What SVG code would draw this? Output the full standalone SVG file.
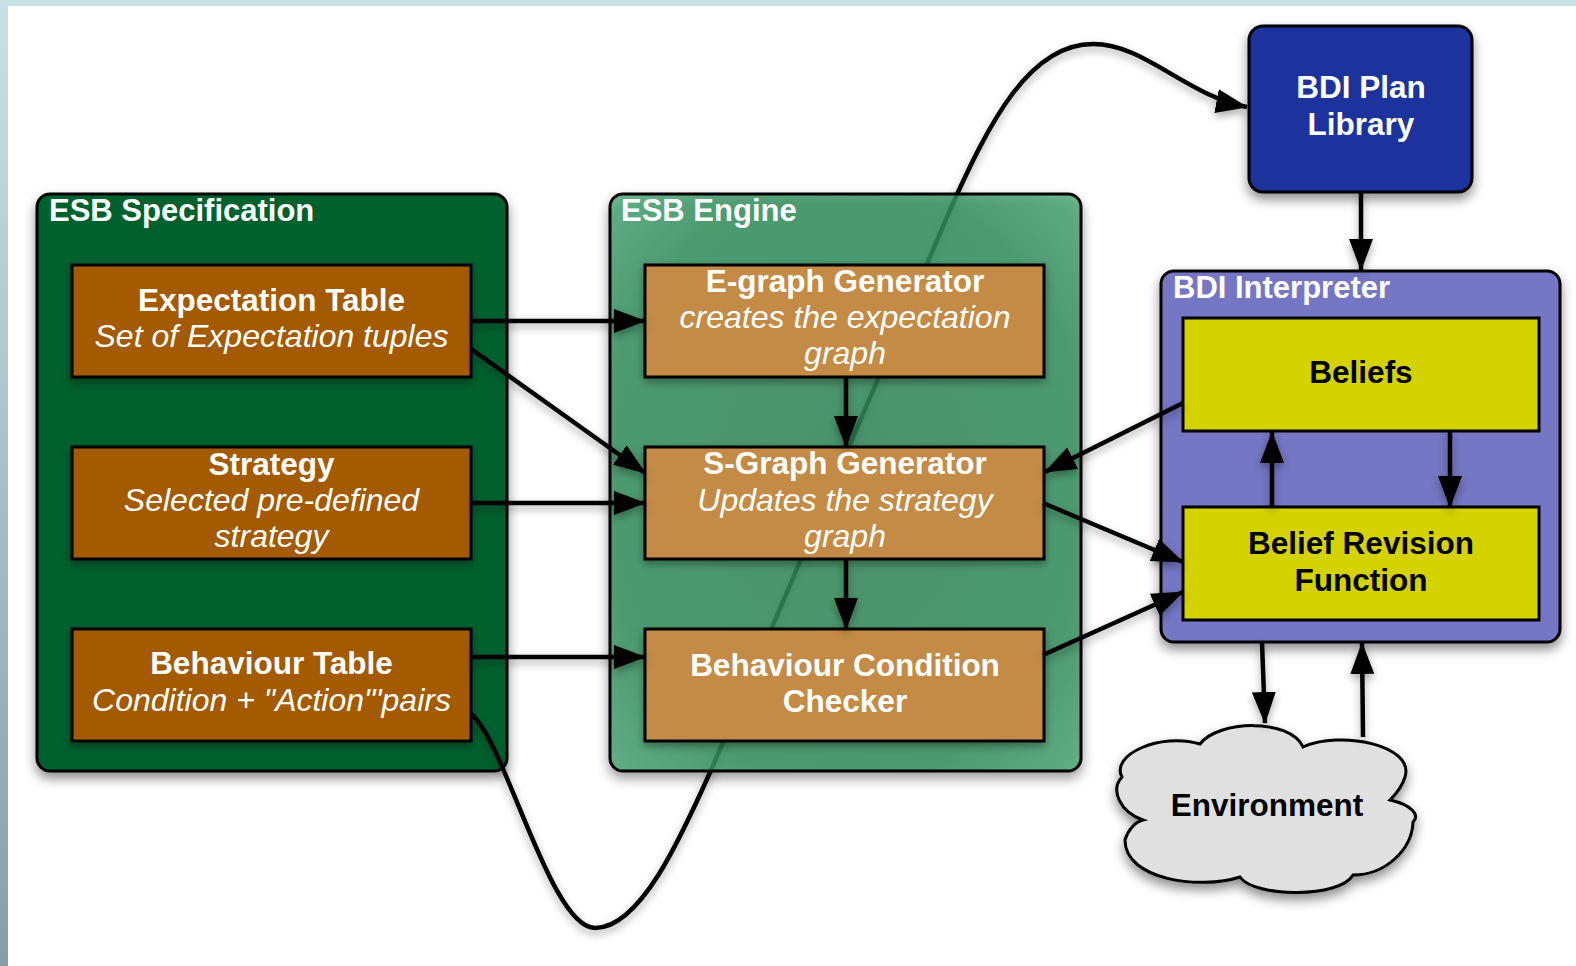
<svg xmlns="http://www.w3.org/2000/svg" width="1576" height="966" viewBox="0 0 1576 966">
<defs>
<style>
.t{font-family:"Liberation Sans",Arial,Helvetica,sans-serif;text-anchor:middle}
.b{font-weight:bold;font-size:31.5px}
.i{font-style:italic;font-size:32px}
.w{fill:#fff}
.k{fill:#000}
.ttl{font-family:"Liberation Sans",Arial,Helvetica,sans-serif;font-weight:bold;font-size:31px;fill:#fff}
.node{stroke:#000;stroke-width:3}
.brown{fill:#A35A00}
.tan{fill:#C38B45}
.yel{fill:#D4D200}
.con{fill:none;stroke:#000;stroke-width:4.5}
</style>
<linearGradient id="leftbg" x1="0" y1="0" x2="0" y2="1">
<stop offset="0" stop-color="#C8E1E4"/>
<stop offset="1" stop-color="#87A0A6"/>
</linearGradient>
<radialGradient id="engFill" cx="0.5" cy="0.5" r="0.75">
<stop offset="0" stop-color="#30885A"/>
<stop offset="0.7" stop-color="#36905F"/>
<stop offset="1" stop-color="#52AE7E"/>
</radialGradient>
<filter id="sh" filterUnits="userSpaceOnUse" x="0" y="0" width="1576" height="966">
<feDropShadow dx="0" dy="6" stdDeviation="6" flood-color="#000" flood-opacity="0.45"/>
</filter>
<filter id="shs" filterUnits="userSpaceOnUse" x="0" y="0" width="1576" height="966">
<feDropShadow dx="0" dy="4" stdDeviation="4" flood-color="#000" flood-opacity="0.35"/>
</filter>
<marker id="arr" markerUnits="userSpaceOnUse" markerWidth="32" markerHeight="24" viewBox="0 0 32 24" refX="31" refY="12" orient="auto">
<path d="M0,0 L32,12 L0,24 z" fill="#000"/>
</marker>
</defs>

<g id="background">
<rect x="0" y="0" width="1576" height="966" fill="#fff"/>
<rect x="0" y="0" width="1576" height="6" fill="#C8E1E4"/>
<rect x="0" y="0" width="8" height="966" fill="url(#leftbg)"/>
</g>

<g id="esb-specification">
<rect x="37" y="194" width="470" height="577" rx="13" fill="#00602E" stroke="#000" stroke-width="3" filter="url(#sh)"/>
<text class="ttl" x="49" y="221">ESB Specification</text>
</g>

<g id="connectors-back" filter="url(#shs)">
<path class="con" marker-end="url(#arr)" d="M471,714 C505,740 550,928 595,928 C640,928 680,840 712,768 L950,210 C990,120 1030,44 1093,44 C1145,44 1185,95 1247,107"/>
</g>

<g id="esb-engine">
<rect x="610" y="194" width="471" height="577" rx="13" fill="url(#engFill)" fill-opacity="0.8" stroke="#000" stroke-width="3" filter="url(#sh)"/>
<text class="ttl" x="621" y="221">ESB Engine</text>
</g>

<g id="bdi-interpreter">
<rect x="1161" y="271" width="399" height="371" rx="13" fill="#7576C4" stroke="#000" stroke-width="3" filter="url(#sh)"/>
<text class="ttl" x="1173" y="298">BDI Interpreter</text>
</g>

<g id="expectation-table">
<rect class="node brown" x="72" y="265" width="399" height="112" filter="url(#shs)"/>
<text class="t b w" x="271.5" y="311">Expectation Table</text>
<text class="t i w" x="271.5" y="347">Set of Expectation tuples</text>
</g>

<g id="strategy">
<rect class="node brown" x="72" y="447" width="399" height="112" filter="url(#shs)"/>
<text class="t b w" x="271.5" y="475">Strategy</text>
<text class="t i w" x="271.5" y="511">Selected pre-defined</text>
<text class="t i w" x="271.5" y="547">strategy</text>
</g>

<g id="behaviour-table">
<rect class="node brown" x="72" y="629" width="399" height="112" filter="url(#shs)"/>
<text class="t b w" x="271.5" y="674">Behaviour Table</text>
<text class="t i w" x="271.5" y="711">Condition + "Action"'pairs</text>
</g>

<g id="e-graph-generator">
<rect class="node tan" x="645" y="265" width="399" height="112" filter="url(#shs)"/>
<text class="t b w" x="845" y="292">E-graph Generator</text>
<text class="t i w" x="845" y="328">creates the expectation</text>
<text class="t i w" x="845" y="364">graph</text>
</g>

<g id="s-graph-generator">
<rect class="node tan" x="645" y="447" width="399" height="112" filter="url(#shs)"/>
<text class="t b w" x="845" y="474">S-Graph Generator</text>
<text class="t i w" x="845" y="511">Updates the strategy</text>
<text class="t i w" x="845" y="547">graph</text>
</g>

<g id="behaviour-condition-checker">
<rect class="node tan" x="645" y="629" width="399" height="112" filter="url(#shs)"/>
<text class="t b w" x="845" y="676">Behaviour Condition</text>
<text class="t b w" x="845" y="712">Checker</text>
</g>

<g id="bdi-plan-library">
<rect x="1249" y="26" width="223" height="166" rx="14" fill="#1B309C" stroke="#000" stroke-width="3" filter="url(#sh)"/>
<text class="t b w" x="1361" y="98">BDI Plan</text>
<text class="t b w" x="1361" y="135">Library</text>
</g>

<g id="beliefs">
<rect class="node yel" x="1183" y="318" width="356" height="113"/>
<text class="t b k" x="1361" y="383">Beliefs</text>
</g>

<g id="belief-revision-function">
<rect class="node yel" x="1183" y="507" width="356" height="113"/>
<text class="t b k" x="1361" y="554">Belief Revision</text>
<text class="t b k" x="1361" y="591">Function</text>
</g>

<g id="environment">
<path d="M1122,777 C1110,755 1160,732 1200,744 C1218,720 1290,718 1303,747 C1340,730 1415,745 1405,777 C1402,787 1395,795 1390,800 C1412,805 1420,815 1413,822 C1412,850 1385,875 1353,875 C1340,898 1255,898 1240,877 C1200,890 1125,880 1125,840 C1128,830 1135,822 1143,820 C1120,812 1110,790 1122,777 Z" fill="#E0E0E0" stroke="#000" stroke-width="3" filter="url(#sh)"/>
<text class="t b k" x="1267" y="816">Environment</text>
</g>

<g id="connectors" filter="url(#shs)">
<path class="con" marker-end="url(#arr)" d="M471,321 L645,321"/>
<path class="con" marker-end="url(#arr)" d="M471,349 L645,473"/>
<path class="con" marker-end="url(#arr)" d="M471,503 L645,503"/>
<path class="con" marker-end="url(#arr)" d="M471,657 L645,657"/>
<path class="con" marker-end="url(#arr)" d="M846,377 L846,447"/>
<path class="con" marker-end="url(#arr)" d="M846,559 L846,629"/>
<path class="con" marker-end="url(#arr)" d="M1183,403 L1045,472"/>
<path class="con" marker-end="url(#arr)" d="M1043,503 L1183,562"/>
<path class="con" marker-end="url(#arr)" d="M1043,655 L1183,592"/>
<path class="con" marker-end="url(#arr)" d="M1361,192 L1361,270"/>
<path class="con" marker-end="url(#arr)" d="M1272,507 L1272,432"/>
<path class="con" marker-end="url(#arr)" d="M1450,431 L1450,507"/>
<path class="con" marker-end="url(#arr)" d="M1262,642 L1265,723"/>
<path class="con" marker-end="url(#arr)" d="M1363,737 L1362,643"/>
</g>
</svg>
